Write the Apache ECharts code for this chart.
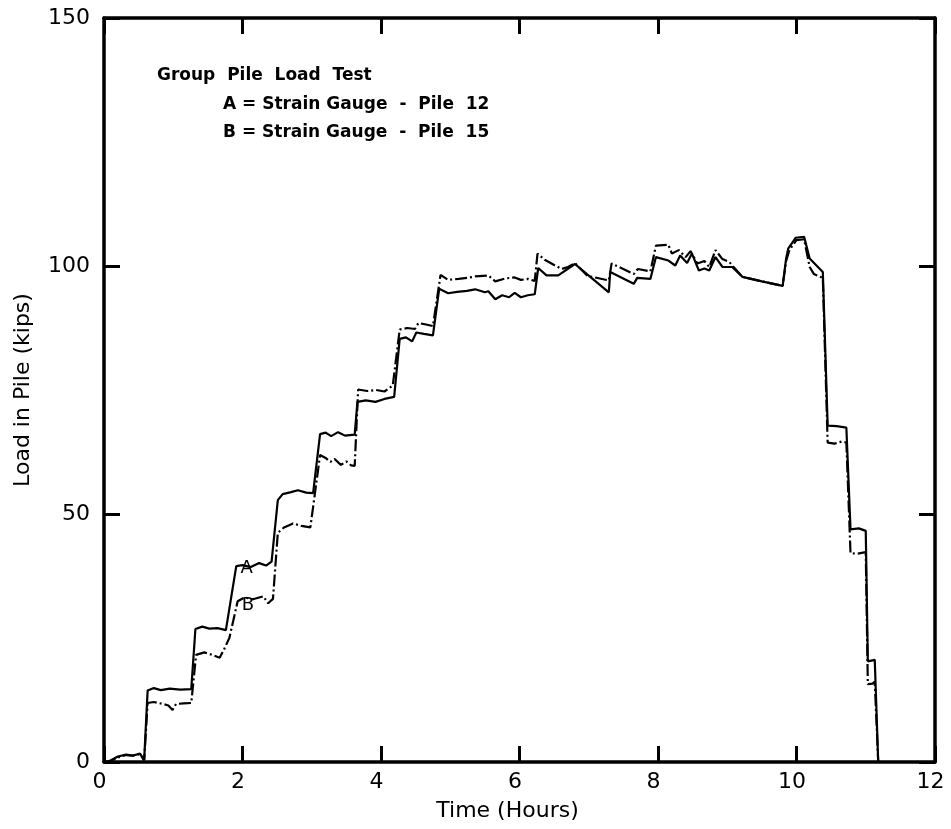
<!DOCTYPE html>
<html>
<head>
<meta charset="utf-8">
<script src="https://cdn.jsdelivr.net/npm/echarts@6/dist/echarts.min.js"></script>
<style>
  html, body { margin: 0; padding: 0; background: #fff; }
  #chart { width: 951px; height: 829px; }
</style>
</head>
<body>
<div id="chart"></div>
<script>
// Strain gauge A (Pile 12): time in hours, load in kips
const hoursA = [0, 0.08, 0.2, 0.32, 0.42, 0.52, 0.58, 0.63, 0.72, 0.82, 0.95, 1.1, 1.26,
  1.32, 1.42, 1.52, 1.64, 1.76, 1.91, 2.0, 2.12, 2.24, 2.34, 2.42,
  2.51, 2.58, 2.7, 2.8, 2.92, 3.02, 3.12, 3.2, 3.28, 3.38, 3.48, 3.62,
  3.66, 3.78, 3.92, 4.05, 4.19, 4.27, 4.36, 4.45, 4.51, 4.62, 4.75,
  4.84, 4.97, 5.1, 5.24, 5.36, 5.5, 5.55, 5.65, 5.75, 5.85, 5.93, 6.02, 6.12, 6.22,
  6.27, 6.39, 6.56, 6.8, 6.97, 7.29, 7.31, 7.65, 7.7, 7.89,
  7.97, 8.15, 8.25, 8.32, 8.42, 8.49, 8.59, 8.67, 8.74, 8.83, 8.93, 9.07,
  9.22, 9.5, 9.8, 9.85, 9.88, 9.99, 10.11, 10.19, 10.38,
  10.45, 10.58, 10.72, 10.78, 10.9, 11.0, 11.03, 11.13, 11.18];
const kipsA = [0, 0.2, 1.1, 1.5, 1.3, 1.7, 0.4, 14.4, 14.9, 14.5, 14.8, 14.6, 14.7,
  26.8, 27.3, 26.9, 27.0, 26.6, 39.5, 39.7, 39.3, 40.1, 39.6, 40.4,
  52.8, 54.0, 54.4, 54.8, 54.3, 54.2, 66.1, 66.4, 65.7, 66.5, 65.8, 66.0,
  72.6, 72.9, 72.6, 73.2, 73.6, 85.3, 85.6, 84.8, 86.6, 86.3, 86.0,
  95.4, 94.5, 94.8, 95.0, 95.3, 94.7, 94.9, 93.3, 94.1, 93.7, 94.6, 93.7, 94.1, 94.3,
  99.6, 98.1, 98.1, 100.4, 98.4, 94.7, 98.8, 96.4, 97.6, 97.4,
  101.8, 101.1, 100.1, 102.1, 100.6, 102.5, 99.1, 99.5, 99.1, 101.8, 99.8, 99.8,
  97.8, 96.9, 96.0, 101.5, 103.5, 105.7, 105.9, 101.5, 98.8,
  67.8, 67.7, 67.4, 46.9, 47.1, 46.6, 20.3, 20.6, 0];

// Strain gauge B (Pile 15)
const hoursB = [0, 0.08, 0.2, 0.32, 0.42, 0.52, 0.58, 0.63, 0.72, 0.85, 0.93, 0.99, 1.04, 1.15, 1.26,
  1.33, 1.45, 1.56, 1.67, 1.73, 1.81, 1.93, 2.03, 2.15, 2.3, 2.37, 2.44,
  2.51, 2.6, 2.73, 2.85, 2.98, 3.12, 3.2, 3.27, 3.33, 3.42, 3.5, 3.57, 3.62,
  3.67, 3.8, 3.93, 4.05, 4.17, 4.27, 4.38, 4.49, 4.54, 4.65, 4.75,
  4.86, 4.97, 5.12, 5.25, 5.36, 5.55, 5.65, 5.8, 5.93, 6.02, 6.12, 6.22,
  6.26, 6.37, 6.5, 6.61, 6.7, 6.8, 6.98, 7.29, 7.33, 7.65, 7.71, 7.89,
  7.97, 8.15, 8.2, 8.3, 8.4, 8.47, 8.57, 8.67, 8.74, 8.83, 8.93, 9.03,
  9.22, 9.5, 9.8, 9.85, 9.9, 10.0, 10.11, 10.19, 10.25, 10.38,
  10.45, 10.55, 10.65, 10.72, 10.78, 10.88, 11.0, 11.03, 11.1, 11.13, 11.18];
const kipsB = [0, 0.1, 0.9, 1.4, 1.3, 1.6, 0.3, 11.9, 12.1, 11.7, 11.4, 10.5, 11.7, 11.8, 11.9,
  21.6, 22.1, 21.6, 21.0, 22.6, 25.0, 32.4, 33.2, 32.8, 33.4, 32.0, 32.9,
  46.2, 47.3, 48.1, 47.6, 47.3, 61.9, 61.3, 60.5, 61.1, 59.9, 60.6, 59.8, 59.7,
  75.1, 74.8, 75.0, 74.7, 75.9, 87.2, 87.5, 87.3, 88.5, 88.2, 87.9,
  98.2, 97.2, 97.4, 97.6, 97.9, 98.1, 96.9, 97.5, 97.7, 97.2, 97.4, 97.0,
  102.5, 101.2, 100.2, 99.4, 99.8, 100.6, 98.0, 97.1, 100.5, 98.4, 99.4, 98.9,
  104.1, 104.3, 102.5, 103.2, 101.8, 103.0, 100.5, 101.0, 99.8, 103.2, 101.4, 100.8,
  97.8, 96.9, 96.0, 101.0, 103.3, 105.2, 105.4, 99.8, 98.4, 97.6,
  64.4, 64.2, 64.6, 64.4, 42.1, 42.0, 42.3, 15.7, 15.8, 16.2, 0];

// Curve tags placed next to the loading steps
const tagA = { text: 'A', at: [2.06, 39.0] };
const tagB = { text: 'B', at: [2.08, 31.6] };

const legendLines = [
  'Group  Pile  Load  Test',
  'A = Strain Gauge  -  Pile  12',
  'B = Strain Gauge  -  Pile  15'
];

const xRange = { min: 0, max: 12, step: 2 };
const yRange = { min: 0, max: 150, step: 50 };

const FONT = '"DejaVu Sans", sans-serif';
const pairs = (xs, ys) => xs.map((x, i) => [x, ys[i]]);

const chart = echarts.init(document.getElementById('chart'), null, { renderer: 'canvas' });

const frameLine = { show: true, onZero: false, lineStyle: { color: '#000', width: 3.5 } };
const innerTick = { show: true, inside: true, length: 16, lineStyle: { color: '#000', width: 3 } };

const tagPoint = (tag) => ({
  symbol: 'circle',
  symbolSize: 1,
  itemStyle: { color: 'rgba(0,0,0,0)' },
  label: {
    show: true, position: 'inside', formatter: tag.text,
    color: '#000', fontSize: 18, fontFamily: FONT
  },
  data: [{ coord: tag.at }]
});

chart.setOption({
  animation: false,
  backgroundColor: '#fff',
  grid: { left: 104, right: 16, top: 18, bottom: 67 },
  xAxis: [
    {
      type: 'value', position: 'bottom',
      min: xRange.min, max: xRange.max, interval: xRange.step,
      axisLine: frameLine, axisTick: innerTick, splitLine: { show: false },
      axisLabel: { color: '#000', fontSize: 22, fontFamily: FONT, margin: 9, padding: [0, 9, 0, 0] },
      name: 'Time (Hours)', nameLocation: 'middle', nameGap: 38,
      nameTextStyle: { color: '#000', fontSize: 22, fontFamily: FONT, padding: [0, 24, 0, 0] }
    },
    {
      type: 'value', position: 'top',
      min: xRange.min, max: xRange.max, interval: xRange.step,
      axisLine: frameLine, axisTick: innerTick, splitLine: { show: false },
      axisLabel: { show: false }
    }
  ],
  yAxis: [
    {
      type: 'value', position: 'left',
      min: yRange.min, max: yRange.max, interval: yRange.step,
      axisLine: frameLine, axisTick: innerTick, splitLine: { show: false },
      axisLabel: { color: '#000', fontSize: 22, fontFamily: FONT, margin: 14 },
      name: 'Load in Pile (kips)', nameLocation: 'middle', nameGap: 70,
      nameTextStyle: { color: '#000', fontSize: 22, fontFamily: FONT }
    },
    {
      type: 'value', position: 'right',
      min: yRange.min, max: yRange.max, interval: yRange.step,
      axisLine: frameLine, axisTick: innerTick, splitLine: { show: false },
      axisLabel: { show: false }
    }
  ],
  series: [
    {
      name: 'A', type: 'line', xAxisIndex: 0, yAxisIndex: 0,
      data: pairs(hoursA, kipsA), showSymbol: false, symbol: 'none',
      lineStyle: { color: '#000', width: 2.2 },
      markPoint: tagPoint(tagA)
    },
    {
      name: 'B', type: 'line', xAxisIndex: 0, yAxisIndex: 0,
      data: pairs(hoursB, kipsB), showSymbol: false, symbol: 'none',
      lineStyle: { color: '#000', width: 2.2, type: [12, 3, 2, 3] },
      markPoint: tagPoint(tagB)
    }
  ],
  graphic: [
    { type: 'text', left: 157, top: 67, style: { text: legendLines[0], font: 'bold 17px ' + FONT, fill: '#000' } },
    { type: 'text', left: 223, top: 96, style: { text: legendLines[1], font: 'bold 17px ' + FONT, fill: '#000' } },
    { type: 'text', left: 223, top: 124, style: { text: legendLines[2], font: 'bold 17px ' + FONT, fill: '#000' } }
  ]
});
</script>
</body>
</html>
